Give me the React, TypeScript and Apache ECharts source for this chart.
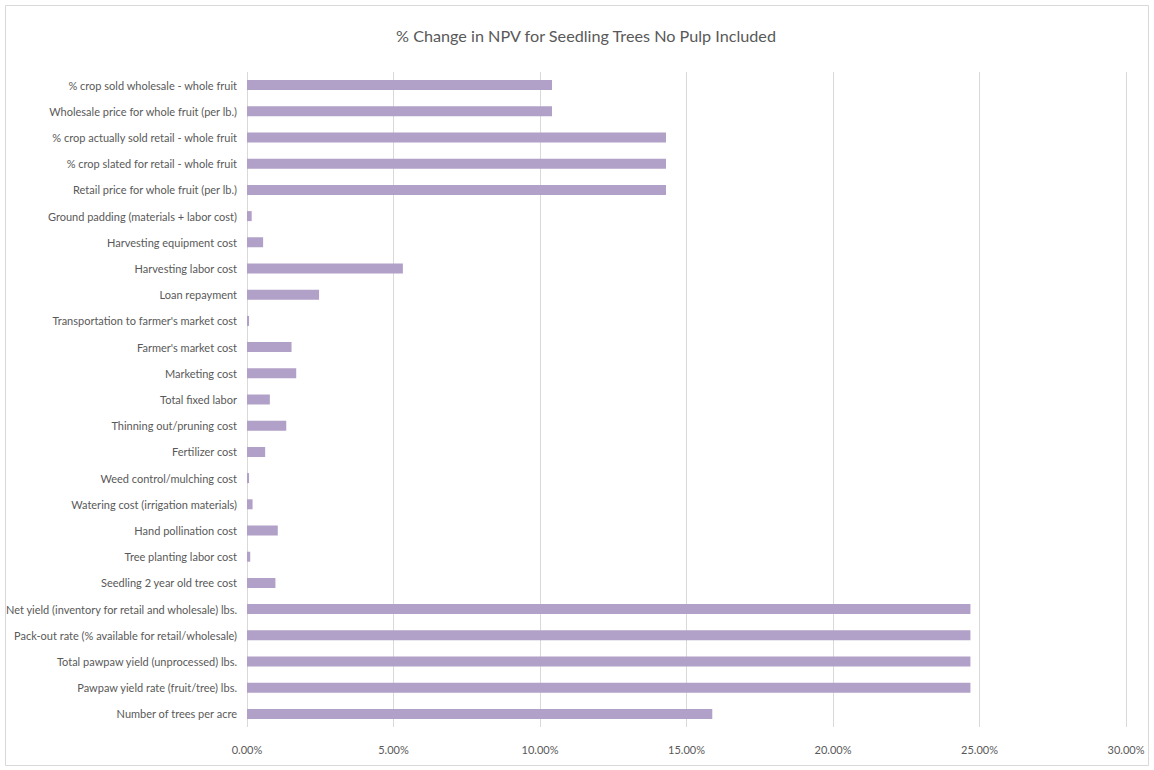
import React, { useEffect, useRef } from "react";
import * as echarts from "echarts";

const titleText = "% Change in NPV for Seedling Trees No Pulp Included";

// top to bottom as shown
const categories = [
  "% crop sold wholesale - whole fruit",
  "Wholesale price for whole fruit (per lb.)",
  "% crop actually sold retail - whole fruit",
  "% crop slated for retail - whole fruit",
  "Retail price for whole fruit (per lb.)",
  "Ground padding (materials + labor cost)",
  "Harvesting equipment cost",
  "Harvesting labor cost",
  "Loan repayment",
  "Transportation to farmer's market cost",
  "Farmer's market cost",
  "Marketing cost",
  "Total fixed labor",
  "Thinning out/pruning cost",
  "Fertilizer cost",
  "Weed control/mulching cost",
  "Watering cost (irrigation materials)",
  "Hand pollination cost",
  "Tree planting labor cost",
  "Seedling 2 year old tree cost",
  "Net yield (inventory for retail and wholesale) lbs.",
  "Pack-out rate (% available for retail/wholesale)",
  "Total pawpaw yield (unprocessed) lbs.",
  "Pawpaw yield rate (fruit/tree) lbs.",
  "Number of trees per acre",
];

// percent change in NPV
const values = [
  10.41, 10.41, 14.3, 14.3, 14.3,
  0.16, 0.55, 5.32, 2.46, 0.07,
  1.52, 1.68, 0.78, 1.34, 0.62,
  0.07, 0.19, 1.05, 0.11, 0.97,
  24.69, 24.69, 24.69, 24.69, 15.88,
];

const xTicks = { min: 0, max: 30, interval: 5 };

export default function App() {
  const ref = useRef<HTMLDivElement>(null);
  useEffect(() => {
    if (!ref.current) return;
    const chart = echarts.init(ref.current, null, { renderer: "svg" });
    const font = "Lato, sans-serif";
    chart.setOption({
      animation: false,
      backgroundColor: "#ffffff",
      textStyle: { fontFamily: font },
      title: {
        text: titleText,
        left: 581,
        textAlign: "center",
        top: 22,
        textStyle: { fontFamily: font, fontSize: 16.2, fontWeight: "normal", color: "#595959" },
      },
      graphic: [
        {
          type: "rect",
          shape: { x: 5.5, y: 5.5, width: 1143, height: 760 },
          style: { fill: "none", stroke: "#d9d9d9", lineWidth: 1 },
          silent: true,
        },
      ],
      grid: { left: 247, right: 28, top: 72, bottom: 43, containLabel: false, outerBoundsMode: "none" },
      xAxis: {
        type: "value",
        min: xTicks.min,
        max: xTicks.max,
        interval: xTicks.interval,
        axisLine: { show: false },
        axisTick: { show: false },
        splitLine: { show: true, lineStyle: { color: "#d9d9d9", width: 1 } },
        axisLabel: {
          formatter: (v: number) => v.toFixed(2) + "%",
          color: "#595959",
          fontSize: 11,
          fontFamily: font,
          margin: 17,
        },
      },
      yAxis: {
        type: "category",
        data: categories,
        inverse: true,
        axisLine: { show: false },
        axisTick: { show: false },
        axisLabel: { color: "#595959", fontSize: 11, fontFamily: font, margin: 10 },
      },
      series: [
        {
          type: "bar",
          data: values,
          barWidth: 10,
          itemStyle: { color: "#b1a0c7" },
        },
      ],
    });
    return () => chart.dispose();
  }, []);
  return (
    <div
      ref={ref}
      style={{ position: "absolute", left: 0, top: 0, width: 1154, height: 770 }}
    />
  );
}
